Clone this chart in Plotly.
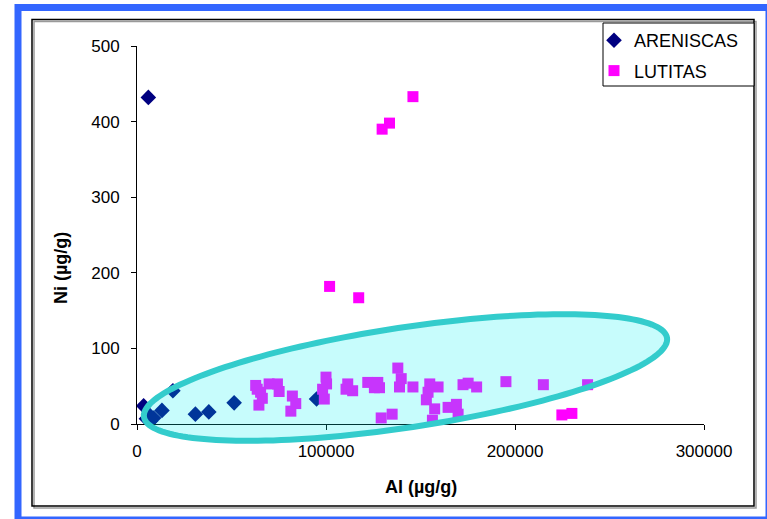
import numpy as np
import plotly.graph_objects as go

# ---------------- data ----------------
are_x = [6000, 3500, 5000, 6100, 7200, 8800, 13200, 19000, 30900, 38000, 51400, 95000]
are_y = [432, 24, 7, 13, 4, 8, 18, 44, 13, 16, 28, 33]

lut_x = [146000, 133600, 129700, 101900, 117300,
         62800, 69900, 74300, 75200, 65400, 66300, 64500, 63600,
         82200, 84000, 81400,
         100000, 100300, 98200, 99100,
         111500, 114100, 110600, 122100, 125600, 127400, 128300,
         138000, 139800, 138900, 146000,
         154900, 154000, 153100, 159300, 157500, 156300,
         129200, 135000,
         164600, 169000, 169900,
         172500, 175200, 179700,
         195200, 215000, 238400, 224800, 230100]
lut_y = [433, 398, 390, 182, 167,
         51, 53, 53, 43, 42, 34, 25, 46,
         37, 27, 17,
         62, 53, 46, 33,
         53, 44, 46, 55, 48, 55, 48,
         74, 60, 49, 49,
         53, 42, 32, 49, 20, 5,
         8, 13,
         22, 26, 13,
         52, 54, 49,
         56, 52, 52, 12, 14]

x_ticks = [0, 100000, 200000, 300000]
y_ticks = [0, 100, 200, 300, 400, 500]

W, H = 767, 519
ML, MR, MT, MB = 137, 63, 46, 95
PW, PH = W - ML - MR, H - MT - MB


def px(xp):
    return (xp - ML) / PW


def py(yp):
    return (H - MB - yp) / PH


fig = go.Figure()
fig.add_trace(go.Scatter(
    x=are_x, y=are_y, mode="markers", name="ARENISCAS", legendgroup="a",
    marker=dict(symbol="diamond", size=12, color="#000080", line=dict(width=0)),
))
fig.add_trace(go.Scatter(
    x=lut_x, y=lut_y, mode="markers", name="LUTITAS", legendgroup="b",
    marker=dict(symbol="square", size=11, color="#FF00FF", line=dict(width=0)),
))

# ----- highlight ellipse (decoration, in pixel space -> paper) -----
cx, cy, a, b, th = 405.5, 377.5, 264.5, 50.0, np.deg2rad(8.6)
phi = np.linspace(0, 2 * np.pi, 181)
ex = cx + a * np.cos(phi) * np.cos(th) - b * np.sin(phi) * np.sin(th)
ey = cy - (a * np.cos(phi) * np.sin(th) + b * np.sin(phi) * np.cos(th))
path = "M " + " L ".join(f"{px(u):.5f},{py(v):.5f}" for u, v in zip(ex, ey)) + " Z"

shapes = [
    dict(type="path", path=path, xref="paper", yref="paper", layer="above",
         line=dict(color="#33CCCC", width=6), fillcolor="rgba(0,240,240,0.22)"),
    # outer blue frame
    dict(type="rect", xref="paper", yref="paper", layer="above",
         x0=px(18), x1=px(769), y0=py(7.5), y1=py(520),
         line=dict(color="#3366FF", width=7), fillcolor="rgba(0,0,0,0)"),
    # shadow of chart border
    dict(type="rect", xref="paper", yref="paper", layer="above",
         x0=px(34), x1=px(756), y0=py(21.5), y1=py(508),
         line=dict(color="#9a9a9a", width=1.5), fillcolor="rgba(0,0,0,0)"),
    # chart border
    dict(type="rect", xref="paper", yref="paper", layer="above",
         x0=px(32), x1=px(754), y0=py(19.5), y1=py(506),
         line=dict(color="black", width=1.5), fillcolor="rgba(0,0,0,0)"),
    # legend box
    dict(type="rect", xref="paper", yref="paper", layer="above",
         x0=px(603), x1=px(754), y0=py(23), y1=py(86),
         line=dict(color="black", width=1), fillcolor="white"),
]

font = "Liberation Sans, Arial, sans-serif"
annotations = [
    dict(text="<b>Al (µg/g)</b>", xref="paper", yref="paper", x=px(421), y=py(487),
         xanchor="center", yanchor="middle", showarrow=False,
         font=dict(family=font, size=18, color="black")),
    dict(text="<b>Ni (µg/g)</b>", xref="paper", yref="paper", x=px(61), y=py(268),
         xanchor="center", yanchor="middle", showarrow=False, textangle=-90,
         font=dict(family=font, size=18, color="black")),
]

fig.update_layout(
    width=W, height=H,
    margin=dict(l=ML, r=MR, t=MT, b=MB, pad=0),
    paper_bgcolor="white", plot_bgcolor="rgba(0,0,0,0)",
    font=dict(family=font, size=16, color="black"),
    shapes=shapes, annotations=annotations,
    showlegend=True,
    legend=dict(x=px(594), y=py(22), xanchor="left", yanchor="top",
                bgcolor="rgba(0,0,0,0)", borderwidth=0, tracegroupgap=4,
                font=dict(family=font, size=18, color="black")),
    xaxis=dict(range=[0, 300000], tickvals=x_ticks, ticktext=[str(v) for v in x_ticks],
               showgrid=False, zeroline=False, showline=True, linecolor="black", linewidth=1,
               ticks="outside", ticklen=5, tickcolor="black", ticklabelstandoff=7,
               tickfont=dict(family=font, size=17, color="black")),
    yaxis=dict(range=[0, 500], tickvals=y_ticks, ticktext=[str(v) for v in y_ticks],
               showgrid=False, zeroline=False, showline=True, linecolor="black", linewidth=1,
               ticks="outside", ticklen=5, tickcolor="black", ticklabelstandoff=8,
               tickfont=dict(family=font, size=17, color="black")),
)

fig.write_html("out.html", config={"displayModeBar": False},
               post_script="document.body.style.margin='0';document.body.style.padding='0';")
